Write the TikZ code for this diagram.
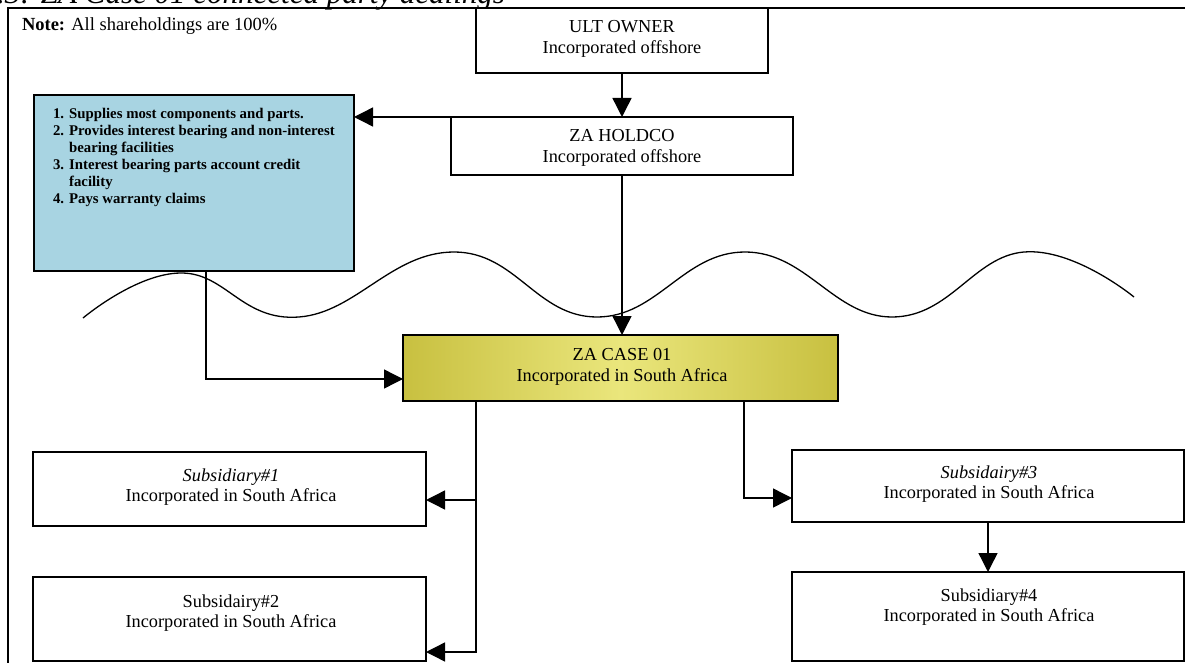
\documentclass[tikz,border=0pt]{standalone}
\usepackage{fontspec}
\setmainfont{Liberation Serif}
\usetikzlibrary{arrows.meta}
\definecolor{listblue}{RGB}{168,212,226}
\definecolor{caseedge}{RGB}{200,192,64}
\definecolor{casemid}{RGB}{234,230,124}
\begin{document}
\begin{tikzpicture}[x=1pt,y=-1pt,
  every node/.style={inner sep=0pt, outer sep=0pt},
  entity/.style={draw=black, line width=1.5pt, rectangle, fill=white, anchor=north west},
  lbl/.style={font=\fontsize{18.3}{20.8}\selectfont, align=center},
  link/.style={draw=black, line width=1.4pt},
  arr/.style={link, -{Triangle[length=19pt,width=19pt]}},
]
\useasboundingbox (0,0) rectangle (1185,663);

% caption line of the page, cut by the top edge
\begin{scope}
  \clip (0,0) rectangle (1185,663);
  \node[anchor=base east, font=\fontsize{31}{34}\selectfont\itshape] (caption) at (505,4)
    {Figure 5.3: ZA Case 01 connected party dealings};
\end{scope}

% frame
\draw[line width=1.5pt] (8,663) -- (8,8) -- (1185,8);

\node[anchor=base west, font=\fontsize{18.5}{21}\selectfont] (note) at (22,31)
  {\textbf{Note:} All shareholdings are 100\%};

% border line between offshore and South Africa
\draw[line width=1.3pt] plot[smooth, tension=0.75] coordinates
  {(83,318) (181,273) (299,317) (454,252) (597,317) (745,252) (892,317) (1024,252) (1134,297)};

% entities
\node[entity, minimum width=292pt, minimum height=65pt] (ult) at (476,8) {};
\node[entity, minimum width=342pt, minimum height=58pt] (holdco) at (451,117) {};
\node[entity, fill=listblue, line width=2pt, minimum width=320pt, minimum height=176pt] (blue) at (34,95) {};
\node[entity, line width=2.2pt, left color=caseedge, right color=caseedge, middle color=casemid,
      minimum width=435pt, minimum height=66pt] (zacase) at (403,335) {};
\node[entity, minimum width=393pt, minimum height=74pt] (sub1) at (33,452) {};
\node[entity, minimum width=393pt, minimum height=84pt] (sub2) at (33,577) {};
\node[entity, minimum width=392pt, minimum height=72pt] (sub3) at (792,450) {};
\node[entity, minimum width=392pt, minimum height=89pt] (sub4) at (792,572) {};

% texts
\node[lbl] (ultT) at (622,39) {ULT OWNER\\Incorporated offshore};
\node[lbl] (holdcoT) at (622,148) {ZA HOLDCO\\Incorporated offshore};
\node[lbl] (zacaseT) at (622,367) {ZA CASE 01\\Incorporated in South Africa};
\node[lbl] (sub1T) at (231,487) {\textit{Subsidiary\#1}\\Incorporated in South Africa};
\node[lbl] (sub2T) at (231,613) {Subsidairy\#2\\Incorporated in South Africa};
\node[lbl] (sub3T) at (989,484) {\textit{Subsidairy\#3}\\Incorporated in South Africa};
\node[lbl] (sub4T) at (989,607) {Subsidiary\#4\\Incorporated in South Africa};

\node[anchor=north west, font=\fontsize{14.8}{17}\selectfont\bfseries] (list) at (53,107) {%
  \begin{tabular}{@{}r@{\hspace{5pt}}l@{}}
  1. & Supplies most components and parts.\\
  2. & Provides interest bearing and non-interest\\
     & bearing facilities\\
  3. & Interest bearing parts account credit\\
     & facility\\
  4. & Pays warranty claims
  \end{tabular}};

% connectors
\coordinate (bx) at (206,0);
\coordinate (lx) at (476,0);
\coordinate (rx) at (744,0);
\draw[arr] (ult.south) -- (holdco.north);
\draw[arr] (holdco.north west) -- (holdco.north west -| blue.east);
\draw[arr] (holdco.south) -- (holdco.south |- zacase.north);
\draw[arr] (blue.south -| bx) |- ([yshift=-11pt]zacase.west);
\draw[arr] (zacase.south -| lx) |- ([yshift=-11pt]sub1.east);
\draw[arr] (zacase.south -| lx) |- ([yshift=-33pt]sub2.east);
\draw[arr] (zacase.south -| rx) |- ([yshift=-12pt]sub3.west);
\draw[arr] (sub3.south) -- (sub4.north);
\end{tikzpicture}
\end{document}
